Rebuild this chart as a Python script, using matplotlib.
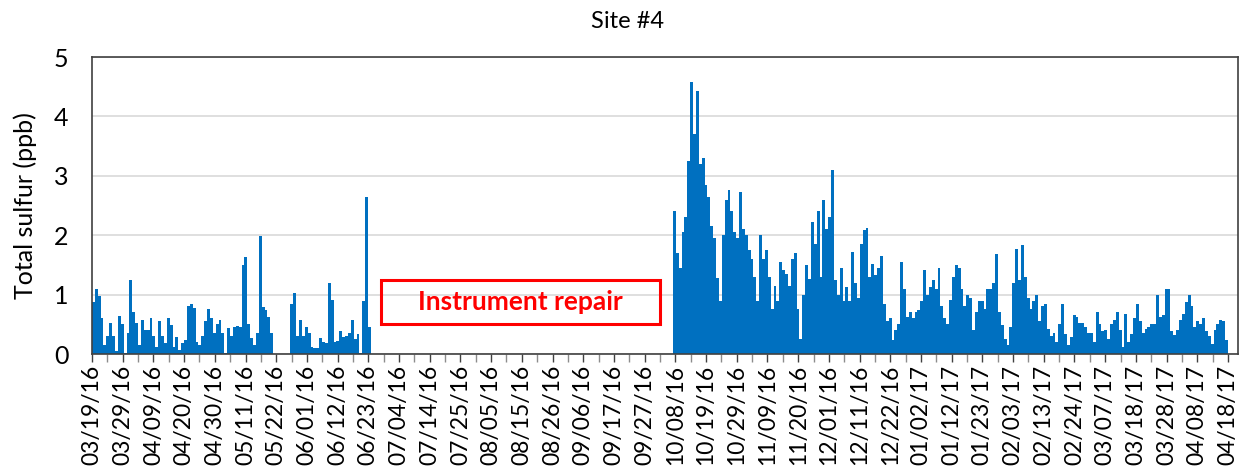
import numpy as np
import pandas as pd
import matplotlib
matplotlib.use("Agg")
import matplotlib.pyplot as plt
from matplotlib.patches import Rectangle

plt.rcParams['font.family'] = ['Lato', 'DejaVu Sans']

# daily total sulfur (ppb)
start_1 = "2016-03-19"
sulfur_1 = [
    0.88, 1.1, 0.98, 0.6, 0.15, 0.3, 0.53, 0.3, 0.05, 0.64,
    0.5, 0.02, 0.36, 1.24, 0.7, 0.52, 0.15, 0.58, 0.4, 0.4,
    0.6, 0.3, 0.12, 0.56, 0.3, 0.18, 0.6, 0.49, 0.12, 0.29,
    0.07, 0.18, 0.24, 0.8, 0.84, 0.77, 0.2, 0.15, 0.3, 0.55,
    0.75, 0.6, 0.35, 0.5, 0.57, 0.35, 0.02, 0.44, 0.3, 0.46,
    0.47, 0.45, 1.5, 1.63, 0.5, 0.27, 0.15, 0.35, 1.98, 0.79,
    0.74, 0.63, 0.36, None, None, None, None, None, None, 0.84,
    1.02, 0.3, 0.57, 0.3, 0.45, 0.35, 0.12, 0.1, 0.1, 0.27,
    0.2, 0.18, 1.19, 0.91, 0.2, 0.22, 0.38, 0.28, 0.3, 0.35,
    0.57, 0.25, 0.34, 0.02, 0.9, 2.64, 0.45,
]

start_2 = "2016-10-07"
sulfur_2 = [
    2.4, 1.7, 1.45, 2.05, 2.3, 3.25, 4.58, 3.7, 4.43, 3.2,
    3.3, 2.85, 2.65, 2.15, 1.95, 1.28, 0.9, 2.0, 2.6, 2.76,
    2.4, 2.05, 1.95, 2.72, 2.1, 2.0, 1.75, 1.6, 1.3, 0.9,
    2.0, 1.6, 1.75, 1.3, 0.75, 1.15, 0.9, 1.55, 1.42, 1.35,
    1.15, 1.6, 1.7, 0.75, 0.25, 1.0, 1.5, 1.27, 2.23, 1.85,
    2.4, 1.3, 2.59, 2.1, 2.3, 3.09, 1.25, 1.0, 1.44, 0.9,
    1.13, 0.9, 1.72, 1.2, 0.95, 1.86, 2.09, 2.12, 1.3, 1.52,
    1.33, 1.44, 1.65, 0.85, 0.56, 0.6, 0.23, 0.4, 0.5, 1.55,
    1.1, 0.63, 0.71, 0.6, 0.7, 0.74, 0.9, 1.41, 1.0, 1.13,
    1.24, 1.1, 1.44, 0.8, 0.6, 0.5, 0.91, 1.3, 1.5, 1.44,
    1.1, 0.8, 1.0, 0.95, 0.4, 0.7, 0.9, 0.9, 0.75, 1.1,
    1.1, 1.2, 1.69, 0.7, 0.48, 0.25, 0.15, 0.45, 1.2, 1.76,
    1.25, 1.84, 1.3, 0.95, 0.75, 0.9, 1.0, 0.55, 0.8, 0.85,
    0.42, 0.3, 0.35, 0.2, 0.5, 0.85, 0.33, 0.15, 0.29, 0.65,
    0.62, 0.52, 0.52, 0.45, 0.36, 0.35, 0.2, 0.7, 0.51, 0.38,
    0.4, 0.25, 0.51, 0.57, 0.7, 0.4, 0.12, 0.68, 0.2, 0.33,
    0.6, 0.85, 0.55, 0.35, 0.42, 0.45, 0.51, 0.5, 1.0, 0.62,
    0.65, 1.09, 1.1, 0.38, 0.32, 0.4, 0.57, 0.68, 0.88, 1.0,
    0.8, 0.45, 0.55, 0.5, 0.6, 0.38, 0.3, 0.17, 0.4, 0.51,
    0.58, 0.55, 0.24,
]

tick_labels = [
    "03/19/16", "03/29/16", "04/09/16", "04/20/16", "04/30/16", "05/11/16",
    "05/22/16", "06/01/16", "06/12/16", "06/23/16", "07/04/16", "07/14/16",
    "07/25/16", "08/05/16", "08/15/16", "08/26/16", "09/06/16", "09/17/16",
    "09/27/16", "10/08/16", "10/19/16", "10/29/16", "11/09/16", "11/20/16",
    "12/01/16", "12/11/16", "12/22/16", "01/02/17", "01/12/17", "01/23/17",
    "02/03/17", "02/13/17", "02/24/17", "03/07/17", "03/18/17", "03/28/17",
    "04/08/17", "04/18/17",
]

t0 = pd.Timestamp(tick_labels[0])
dates = pd.concat([
    pd.Series(pd.date_range(start_1, periods=len(sulfur_1), freq="D")),
    pd.Series(pd.date_range(start_2, periods=len(sulfur_2), freq="D")),
])
days = (dates - t0).dt.days.to_numpy()
vals = np.array(sulfur_1 + sulfur_2, dtype=float)

fig = plt.figure(figsize=(12.55, 4.70), dpi=100)
ax = fig.add_axes([0.0733, 0.2468, 0.9132, 0.6319])

ax.bar(days, vals, width=1.0, align="edge", color="#0070C0", linewidth=0)

span = (pd.Timestamp(tick_labels[-1]) - t0).days
major = np.linspace(0, span, len(tick_labels))
ax.set_xticks(major)
ax.set_xticklabels(tick_labels, rotation=90, fontsize=16.5)
ax.set_xticks(major[:-1] + (major[1] - major[0]) / 2, minor=True)
ax.set_xlim(0, span + 3.5)
ax.tick_params(axis="x", which="major", length=6, width=1, color="#404040", pad=2)
ax.tick_params(axis="x", which="minor", length=6, width=1, color="#8c8c8c")

ax.set_ylim(0, 5)
ax.set_yticks(range(6))
ax.tick_params(axis="y", length=0, labelsize=18, pad=17)
ax.yaxis.grid(True, color="#d9d9d9", linewidth=1.2)
ax.set_axisbelow(True)
ax.set_ylabel("Total sulfur (ppb)", fontsize=18, labelpad=12)

for s in ax.spines.values():
    s.set_color("#404040")
    s.set_linewidth(1.2)

# instrument repair annotation
ax.add_patch(Rectangle((100.5, 0.5), 97, 0.75, fill=False, edgecolor="#FF0000", linewidth=2.2))
ax.text(149, 0.875, "Instrument repair", color="#FF0000", fontsize=19, fontweight="bold",
        ha="center", va="center")

fig.text(0.5, 1 - 22 / 470, "Site #4", ha="center", va="center", fontsize=17)

fig.savefig("out.png", dpi=100)
